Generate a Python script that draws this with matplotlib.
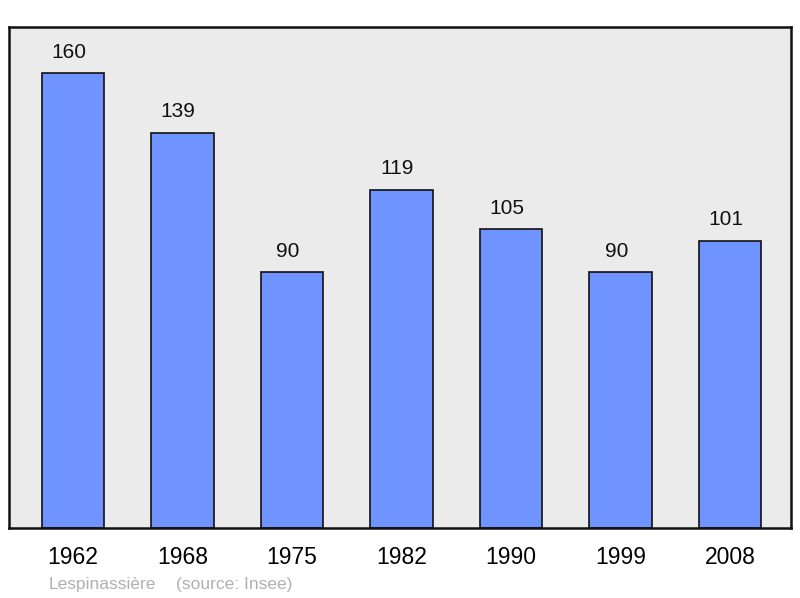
import matplotlib
matplotlib.use("Agg")
import matplotlib.pyplot as plt

years = ["1962", "1968", "1975", "1982", "1990", "1999", "2008"]
population = [160, 139, 90, 119, 105, 90, 101]
place = "Lespinassière"
source = "(source: Insee)"

plt.rcParams['font.family'] = ['Liberation Sans', 'DejaVu Sans']

fig = plt.figure(figsize=(8, 5.98), dpi=100)
ax = fig.add_axes([9/800, 70/598, 782/800, 501/598])
ax.set_facecolor('#ebebeb')

x = list(range(len(years)))
bars = ax.bar(x, population, width=0.57, color='#7094ff', edgecolor='#111111', linewidth=1.2, zorder=2)
for xi, v in zip(x, population):
    ax.annotate(str(v), (xi, v), xytext=(-3, 15), textcoords='offset points',
                ha='center', va='center', fontsize=15, color='#111111')

ax.set_xlim(-0.584, 6.557)
ax.set_ylim(0, 176.2)
ax.set_yticks([])
ax.set_xticks(x)
ax.set_xticklabels(years, fontsize=16.5)
ax.tick_params(axis='x', length=0, pad=13)
for s in ax.spines.values():
    s.set_linewidth(1.8)
    s.set_color('#111111')

fig.text(49/800, 1 - 584/598, place, fontsize=12.5, color='#b0b0b0', va='center', ha='left')
fig.text(176/800, 1 - 584/598, source, fontsize=12.5, color='#b0b0b0', va='center', ha='left')

fig.savefig('out.png', dpi=100)
